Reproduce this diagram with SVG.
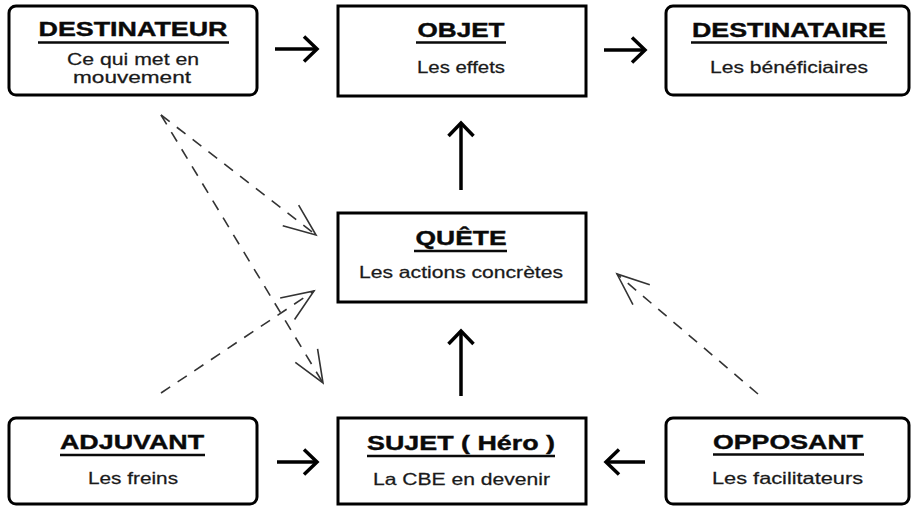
<svg xmlns="http://www.w3.org/2000/svg" width="913" height="508" viewBox="0 0 913 508">
  <style>
    .box { fill: #ffffff; stroke: #000000; stroke-width: 3; }
    .title { font-family: "Liberation Sans", Arial, sans-serif; font-weight: bold; font-size: 20.5px; fill: #0a0a0a; stroke: #0a0a0a; stroke-width: 0.4; text-anchor: middle; }
    .sub { font-family: "Liberation Sans", Arial, sans-serif; font-size: 16.5px; fill: #1a1a1a; stroke: #1a1a1a; stroke-width: 0.25; text-anchor: middle; }
    .ul { stroke: #0a0a0a; stroke-width: 2.6; }
    .solid { stroke: #000000; stroke-width: 3.5; fill: none; }
    .dash { stroke: #333333; stroke-width: 1.6; fill: none; stroke-dasharray: 11 9; }
  </style>
  <defs>
    <marker id="headSolid" markerUnits="userSpaceOnUse" markerWidth="40" markerHeight="40" refX="0" refY="0" orient="auto" overflow="visible">
      <path d="M-13,-12.5 L0,0 L-13,12.5" fill="none" stroke="#000000" stroke-width="3.5" stroke-linejoin="miter"/>
    </marker>
    <marker id="headDash" markerUnits="userSpaceOnUse" markerWidth="60" markerHeight="60" refX="0" refY="0" orient="auto" overflow="visible">
      <path d="M-32,-13 L0,0 L-32,13" fill="none" stroke="#333333" stroke-width="1.6"/>
    </marker>
  </defs>
  <rect width="913" height="508" fill="#ffffff"/>

  <g id="destinateur">
    <rect class="box" x="9" y="6" width="248" height="89" rx="7"/>
    <text class="title" transform="translate(133 36) scale(1.3 1)" textLength="145.4" lengthAdjust="spacingAndGlyphs">DESTINATEUR</text>
    <line class="ul" x1="38" y1="42.5" x2="229" y2="42.5"/>
    <text class="sub" transform="translate(133 64.5) scale(1.25 1)" textLength="105.6" lengthAdjust="spacingAndGlyphs">Ce qui met en</text>
    <text class="sub" transform="translate(132 82.5) scale(1.25 1)" textLength="94.4" lengthAdjust="spacingAndGlyphs">mouvement</text>
  </g>

  <g id="objet">
    <rect class="box" x="338" y="6" width="248" height="90"/>
    <text class="title" transform="translate(461 37) scale(1.3 1)" textLength="66.9" lengthAdjust="spacingAndGlyphs">OBJET</text>
    <line class="ul" x1="416" y1="42.5" x2="506" y2="42.5"/>
    <text class="sub" transform="translate(461 72.5) scale(1.25 1)" textLength="70.4" lengthAdjust="spacingAndGlyphs">Les effets</text>
  </g>

  <g id="destinataire">
    <rect class="box" x="666" y="6" width="243" height="89" rx="7"/>
    <text class="title" transform="translate(789 36.5) scale(1.3 1)" textLength="149.2" lengthAdjust="spacingAndGlyphs">DESTINATAIRE</text>
    <line class="ul" x1="691" y1="42.5" x2="887" y2="42.5"/>
    <text class="sub" transform="translate(789 73) scale(1.25 1)" textLength="126.4" lengthAdjust="spacingAndGlyphs">Les bénéficiaires</text>
  </g>

  <g id="quete">
    <rect class="box" x="338" y="213" width="248" height="89"/>
    <text class="title" transform="translate(461 245) scale(1.3 1)" textLength="70" lengthAdjust="spacingAndGlyphs">QUÊTE</text>
    <line class="ul" x1="414" y1="251" x2="507" y2="251"/>
    <text class="sub" transform="translate(461 277.5) scale(1.25 1)" textLength="163.2" lengthAdjust="spacingAndGlyphs">Les actions concrètes</text>
  </g>

  <g id="adjuvant">
    <rect class="box" x="9" y="418" width="248" height="86" rx="7"/>
    <text class="title" transform="translate(132 449) scale(1.3 1)" textLength="110.8" lengthAdjust="spacingAndGlyphs">ADJUVANT</text>
    <line class="ul" x1="60" y1="455" x2="205" y2="455"/>
    <text class="sub" transform="translate(133 483.5) scale(1.25 1)" textLength="72" lengthAdjust="spacingAndGlyphs">Les freins</text>
  </g>

  <g id="sujet">
    <rect class="box" x="338" y="418" width="248" height="86"/>
    <text class="title" transform="translate(461 450) scale(1.3 1)" textLength="144.6" lengthAdjust="spacingAndGlyphs">SUJET ( Héro )</text>
    <line class="ul" x1="367" y1="456" x2="555" y2="456"/>
    <text class="sub" transform="translate(461.5 484.5) scale(1.25 1)" textLength="141.6" lengthAdjust="spacingAndGlyphs">La CBE en devenir</text>
  </g>

  <g id="opposant">
    <rect class="box" x="666" y="418" width="243" height="86" rx="7"/>
    <text class="title" transform="translate(788 449) scale(1.3 1)" textLength="115.4" lengthAdjust="spacingAndGlyphs">OPPOSANT</text>
    <line class="ul" x1="713" y1="454.5" x2="864" y2="454.5"/>
    <text class="sub" transform="translate(787.5 483.5) scale(1.25 1)" textLength="120.8" lengthAdjust="spacingAndGlyphs">Les facilitateurs</text>
  </g>

  <g id="connectors">
    <line class="solid" x1="275" y1="49" x2="317" y2="49" marker-end="url(#headSolid)"/>
    <line class="solid" x1="604" y1="50" x2="645" y2="50" marker-end="url(#headSolid)"/>
    <line class="solid" x1="277" y1="462" x2="317" y2="462" marker-end="url(#headSolid)"/>
    <line class="solid" x1="645" y1="462" x2="606" y2="462" marker-end="url(#headSolid)"/>
    <line class="solid" x1="461" y1="190" x2="461" y2="123" marker-end="url(#headSolid)"/>
    <line class="solid" x1="461" y1="396" x2="461" y2="331" marker-end="url(#headSolid)"/>

    <line class="dash" x1="161" y1="115" x2="316" y2="235" marker-end="url(#headDash)"/>
    <line class="dash" x1="161" y1="115" x2="323" y2="383" marker-end="url(#headDash)"/>
    <line class="dash" x1="161" y1="393" x2="314" y2="291" marker-end="url(#headDash)"/>
    <line class="dash" x1="758" y1="394" x2="617" y2="274" marker-end="url(#headDash)"/>
  </g>
</svg>
